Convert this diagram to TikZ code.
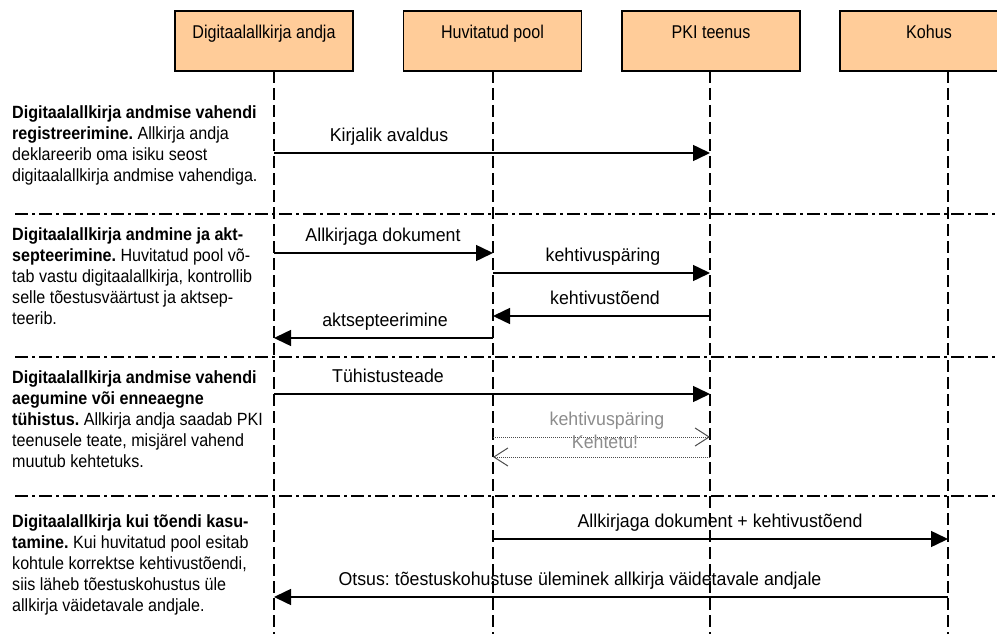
\documentclass[tikz,border=0pt]{standalone}
\usepackage{fontspec}
\setmainfont{Liberation Sans}
\newfontfamily\narrowsf[FakeStretch=0.87]{Liberation Sans}
\newfontfamily\descsf[FakeStretch=0.91]{Liberation Sans}
\newfontfamily\labelsf[FakeStretch=0.955]{Liberation Sans}
\frenchspacing
\usetikzlibrary{arrows.meta}
\definecolor{actorfill}{RGB}{255,204,153}
\tikzset{
  actor/.style={draw, fill=actorfill, line width=1.2pt, minimum width=178pt, minimum height=60pt,
    inner sep=0pt, text height=0pt, text depth=4pt, font=\narrowsf\fontsize{18.5}{21}\selectfont},
  lifeline/.style={line width=1.2pt, dash pattern=on 12pt off 5pt},
  separator/.style={line width=1.3pt, dash pattern=on 13pt off 4pt on 3pt off 4pt},
  msg/.style={line width=1.5pt, -{Triangle[length=17pt,width=16pt]}},
  voidmsg/.style={line width=1pt, black!70, dash pattern=on 1pt off 1pt, -{Straight Barb[length=14pt,width=18pt]}},
  msglabel/.style={anchor=base, inner sep=0pt, font=\labelsf\fontsize{18.6}{21}\selectfont},
  desc/.style={anchor=north west, align=left, inner sep=0pt, font=\descsf\fontsize{17.7}{21}\selectfont}
}
\begin{document}
\begin{tikzpicture}[x=1pt, y=-1pt]
  \useasboundingbox (0,0) rectangle (997,634);
  \clip (0,0) rectangle (997,634);
  \node[actor] (andja) at (264,41) {Digitaalallkirja andja};
  \node[actor] (huvitatud) at (492.5,41) {Huvitatud pool};
  \node[actor] (pki) at (711,41) {PKI teenus};
  \node[actor] (kohus) at (929,41) {Kohus};
  \coordinate (bottom) at (0,634);
  \foreach \x [count=\i] in {274,493,710,948} {
    \coordinate (l\i) at (\x,71);
    \draw[lifeline] (l\i) -- (l\i |- bottom);
  }
  \foreach \y in {214,357,496}
    \draw[separator] (15,\y) -- (997,\y);
  \foreach \y [count=\i] in {153,253,273,316,338,394,437,457,539,597}
    \coordinate (r\i) at (0,\y);

  % phase descriptions
  \node[desc] (desc1) at (12,105) {\textbf{Digitaalallkirja andmise vahendi}\\
    \textbf{registreerimine.} Allkirja andja\\
    deklareerib oma isiku seost\\
    digitaalallkirja andmise vahendiga.};
  \node[desc] (desc2) at (12,227) {\textbf{Digitaalallkirja andmine ja akt-}\\
    \textbf{septeerimine.} Huvitatud pool võ-\\
    tab vastu digitaalallkirja, kontrollib\\
    selle tõestusväärtust ja aktsep-\\
    teerib.};
  \node[desc] (desc3) at (12,370) {\textbf{Digitaalallkirja andmise vahendi}\\
    \textbf{aegumine või enneaegne}\\
    \textbf{tühistus.} Allkirja andja saadab PKI\\
    teenusele teate, misjärel vahend\\
    muutub kehtetuks.};
  \node[desc] (desc4) at (12,514) {\textbf{Digitaalallkirja kui tõendi kasu-}\\
    \textbf{tamine.} Kui huvitatud pool esitab\\
    kohtule korrektse kehtivustõendi,\\
    siis läheb tõestuskohustus üle\\
    allkirja väidetavale andjale.};

  % messages
  \draw[msg] (l1 |- r1) -- (l3 |- r1);
  \node[msglabel] (m1) at (389,141) {Kirjalik avaldus};
  \draw[msg] (l1 |- r2) -- (l2 |- r2);
  \node[msglabel] (m2) at (383,241) {Allkirjaga dokument};
  \draw[msg] (l2 |- r3) -- (l3 |- r3);
  \node[msglabel] (m3) at (603,261) {kehtivuspäring};
  \draw[msg] (l3 |- r4) -- (l2 |- r4);
  \node[msglabel] (m4) at (605,304) {kehtivustõend};
  \draw[msg] (l2 |- r5) -- (l1 |- r5);
  \node[msglabel] (m5) at (385,326) {aktsepteerimine};
  \draw[msg] (l1 |- r6) -- (l3 |- r6);
  \node[msglabel] (m6) at (388,382) {Tühistusteade};
  \draw[voidmsg] (l2 |- r7) -- (l3 |- r7);
  \node[msglabel, text=black!45] (m7) at (607,425) {kehtivuspäring};
  \draw[voidmsg] (l3 |- r8) -- (l2 |- r8);
  \node[msglabel, text=black!45] (m8) at (605,448) {Kehtetu!};
  \draw[msg] (l2 |- r9) -- (l4 |- r9);
  \node[msglabel] (m9) at (720,527) {Allkirjaga dokument + kehtivustõend};
  \draw[msg] (l4 |- r10) -- (l1 |- r10);
  \node[msglabel] (m10) at (580,585) {Otsus: tõestuskohustuse üleminek allkirja väidetavale andjale};
\end{tikzpicture}
\end{document}
